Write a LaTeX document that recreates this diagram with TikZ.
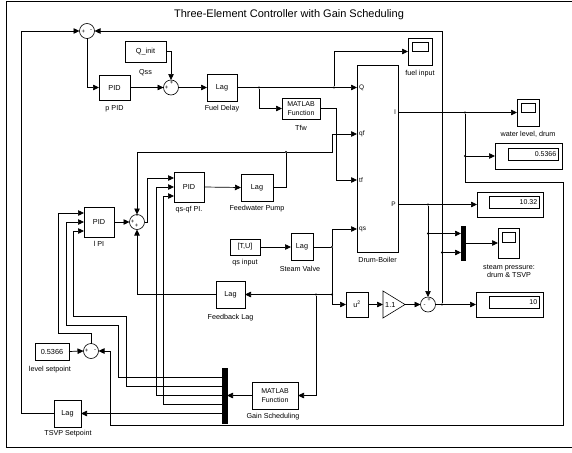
\documentclass[tikz,border=0pt]{standalone}
\usepackage{fontspec}
\setmainfont{Liberation Sans}
\usetikzlibrary{arrows.meta}
\begin{document}
\begin{tikzpicture}[x=1pt,y=-1pt,
  wire/.style={line width=0.7pt},
  sig/.style={wire,-{Triangle[length=6pt,width=5.5pt]}},
  blk/.style={draw,line width=0.6pt,fill=white,inner sep=0pt,outer sep=0pt,align=center,font=\fontsize{7.3}{8}\selectfont},
  lbl/.style={inner sep=0pt,font=\fontsize{7.2}{8}\selectfont,align=center},
  port/.style={inner sep=0pt,font=\fontsize{6.5}{7}\selectfont},
  sumc/.style={circle,draw,line width=0.6pt,minimum size=15pt,inner sep=0pt,outer sep=0pt},
  sgn/.style={inner sep=0pt,font=\fontsize{6}{6}\selectfont},
  jdot/.style={circle,fill,inner sep=0pt,minimum size=2.4pt},
  bar/.style={fill=black,draw=black,inner sep=0pt,outer sep=0pt},
  dval/.style={draw,line width=0.5pt,anchor=north east,inner xsep=1.5pt,inner ysep=0pt,text width=47pt,minimum height=12pt,align=right,font=\fontsize{7}{8}\selectfont},
]
\useasboundingbox (0,0) rectangle (572,452);
% frame
\draw[line width=0.8pt] (572,1) -- (6,1) -- (6,447) -- (572,447);
\node[font=\fontsize{11}{12}\selectfont,inner sep=0pt] (title) at (289,15) {Three-Element Controller with Gain Scheduling};

% ---------- blocks ----------
\node[sumc] (psum) at (87,31) {};
\node[sgn] (psum1) at (83.5,31.5) {+};
\node[sgn] (psum2s) at (91,30.5) {-};
\node[blk,minimum width=31pt,minimum height=25pt] (ppid) at (114.5,87.5) {PID};
\node[lbl] (ppidl) at (114.5,109) {p PID};
\node[blk,minimum width=41pt,minimum height=21pt] (qinit) at (145.5,51.5) {Q\_init};
\node[lbl] (qinitl) at (145.5,73) {Qss};
\node[sumc] (fsum) at (171,87.5) {};
\node[sgn] (fsum1) at (171.5,83) {+};
\node[sgn] (fsum2) at (166.5,88) {+};
\node[blk,minimum width=30pt,minimum height=27pt] (fdelay) at (222,87.5) {Lag};
\node[lbl] (fdelayl) at (222,109) {Fuel Delay};
\node[blk,minimum width=38pt,minimum height=21pt,font=\fontsize{7}{8.5}\selectfont] (tfw) at (301,108.5) {MATLAB\\Function};
\node[lbl] (tfwl) at (301,128) {Tfw};
\node[blk,minimum width=41pt,minimum height=187pt] (boiler) at (377.5,158.5) {};
\node[lbl] (boilerl) at (377.5,260) {Drum-Boiler};
\coordinate (pQ) at (357,87.5);
\coordinate (pQF) at (357,134);
\coordinate (pTF) at (357,180);
\coordinate (pQS) at (357,229);
\coordinate (pL) at (398,112.5);
\coordinate (pP) at (398,204.5);
\node[port,anchor=west] (tQ) at (359,87.5) {Q};
\node[port,anchor=west] (tQF) at (359,134) {qf};
\node[port,anchor=west] (tTF) at (359,180) {tf};
\node[port,anchor=west] (tQS) at (359,229) {qs};
\node[port,anchor=east] (tL) at (396,112.5) {l};
\node[port,anchor=east] (tP) at (396,204.5) {P};

\node[blk,minimum width=24pt,minimum height=27pt] (fuelscope) at (420,51.5) {};
\draw[line width=0.5pt] ([shift={(4pt,-4pt)}]fuelscope.north west) rectangle ([shift={(-4pt,-13pt)}]fuelscope.north east);
\node[lbl] (fuelscopel) at (420,74) {fuel input};
\node[blk,minimum width=22pt,minimum height=27pt] (wlscope) at (528,112.5) {};
\draw[line width=0.5pt] ([shift={(4pt,-4pt)}]wlscope.north west) rectangle ([shift={(-4pt,-13pt)}]wlscope.north east);
\node[lbl] (wlscopel) at (528,134) {water level, drum};

\node[blk,minimum width=67pt,minimum height=26pt] (disp1) at (528.5,156) {};
\node[dval] (disp1v) at ([shift={(-4pt,-5pt)}]disp1.north east) {0.5366};
\node[blk,minimum width=66pt,minimum height=25pt] (disp2) at (510,204.5) {};
\node[dval] (disp2v) at ([shift={(-4pt,-4pt)}]disp2.north east) {10.32};
\node[bar,minimum width=4pt,minimum height=34pt] (mux1) at (463,243) {};
\node[blk,minimum width=21pt,minimum height=30pt] (spscope) at (508.5,243) {};
\draw[line width=0.5pt] ([shift={(4pt,-4pt)}]spscope.north west) rectangle ([shift={(-4pt,-14pt)}]spscope.north east);
\node[lbl] (spscopel) at (509,271) {steam pressure:\\drum \& TSVP};
\node[blk,minimum width=67pt,minimum height=25pt] (disp3) at (509.5,304.5) {};
\node[dval] (disp3v) at ([shift={(-4pt,-4pt)}]disp3.north east) {10};

\node[blk,minimum width=30pt,minimum height=16pt] (qsin) at (245,247) {[T,U]};
\node[lbl] (qsinl) at (245,263) {qs input};
\node[blk,minimum width=22pt,minimum height=27pt] (svalve) at (302,247) {Lag};
\node[lbl] (svalvel) at (300,269) {Steam Valve};
\node[blk,minimum width=22pt,minimum height=25pt] (usq) at (357,304.5) {u\textsuperscript{2}};
\node[inner sep=0pt,outer sep=0pt,minimum width=22pt,minimum height=27pt] (gain) at (394,304.5) {};
\draw[line width=0.6pt] (gain.north west) -- (gain.east) -- (gain.south west) -- cycle;
\node[inner sep=0pt,anchor=west,font=\fontsize{7.3}{8}\selectfont] (gaint) at ([xshift=2pt]gain.west) {1.1};
\node[sumc] (psum2) at (428,304.5) {};
\node[sgn] (psum2a) at (424.5,306) {-};
\node[sgn] (psum2b) at (429,299.5) {+};

\node[blk,minimum width=29pt,minimum height=27pt] (fblag) at (230.5,294.5) {Lag};
\node[lbl] (fblagl) at (230.5,318) {Feedback Lag};
\node[sumc] (qsum) at (137,222) {};
\node[sgn] (qsum1) at (137,216.5) {-};
\node[sgn] (qsum2) at (132.7,222) {+};
\node[sgn] (qsum3) at (136.7,226) {+};
\node[blk,minimum width=30pt,minimum height=30pt] (lpi) at (99,222) {PID};
\node[lbl] (lpil) at (99,244) {l PI};
\node[blk,minimum width=30pt,minimum height=30pt] (qpi) at (189,187) {PID};
\node[lbl] (qpil) at (189,210) {qs-qf PI.};
\node[blk,minimum width=32pt,minimum height=27pt] (fwlag) at (257,187.5) {Lag};
\node[lbl] (fwlagl) at (257,209) {Feedwater Pump};

\node[sumc] (lsum) at (91,351) {};
\node[sgn] (lsum1) at (86.5,351) {+};
\node[sgn] (lsum2) at (95,350.5) {-};
\node[blk,minimum width=34pt,minimum height=17pt] (lconst) at (52,351.5) {0.5366};
\node[lbl] (lconstl) at (50,370) {level setpoint};
\node[bar,minimum width=5pt,minimum height=55pt] (demux) at (224.5,395.5) {};
\node[blk,minimum width=46pt,minimum height=27pt,font=\fontsize{7}{8.5}\selectfont] (gsched) at (275,395.5) {MATLAB\\Function};
\node[lbl] (gschedl) at (273,417) {Gain Scheduling};
\node[blk,minimum width=27pt,minimum height=27pt] (tsvp) at (67.5,413.5) {Lag};
\node[lbl] (tsvpl) at (68,434) {TSVP Setpoint};

% ---------- junctions ----------
\node[jdot] (j1) at (259,87.5) {};
\node[jdot] (j2) at (334,87.5) {};
\node[jdot] (j3) at (286,152) {};
\node[jdot] (j4) at (332,247) {};
\node[jdot] (j5) at (332,294.5) {};
\node[jdot] (j6) at (316,294.5) {};
\node[jdot] (j7) at (442,304.5) {};
\node[jdot] (j8) at (442,252.5) {};
\node[jdot] (j9) at (428,204.5) {};
\node[jdot] (j10) at (428,233.5) {};
\node[jdot] (j11) at (465,112.5) {};
\node[jdot] (j12) at (465,156) {};

% ---------- connectors ----------
\draw[sig] (tsvp.west) -- (21,413.5) |- (psum.west);
\draw[sig] (psum.south) |- (ppid.west);
\draw[sig] (ppid.east) -- (fsum.west);
\draw[sig] (qinit.east) -| (fsum.north);
\draw[sig] (fsum.east) -- (fdelay.west);
\draw[sig] (fdelay.east) -- (pQ);
\draw[sig] (j1) |- (tfw.west);
\draw[sig] (j2) |- (fuelscope.west);
\draw[sig] (tfw.east) -- (336,108.5) -- (336,180) -- (pTF);
\draw[wire] (fwlag.east) -| (j3);
\draw[sig] (j3) -| (332,134) -- (pQF);
\draw[sig] (j3) -| (qsum.north);
\draw[sig] (lpi.east) -- (qsum.west);
\draw[sig] (qsum.east) -| (147.5,178) -- ([yshift=9pt]qpi.west);
\draw[sig] (qpi.east) -- (fwlag.west);
\draw[sig] (fblag.west) -| (qsum.south);
\draw[sig] (qsin.east) -- (svalve.west);
\draw[wire] (svalve.east) -- (j4);
\draw[sig] (j4) |- (pQS);
\draw[sig] (j4) |- (usq.west);
\draw[sig] (j5) -- (fblag.east);
\draw[sig] (j6) |- (gsched.east);
\draw[sig] (usq.east) -- (gain.west);
\draw[sig] (gain.east) -- (psum2.west);
\draw[sig] (psum2.east) -- (disp3.west);
\draw[sig] (j7) |- (psum.east);
\draw[sig] (j8) -- ([yshift=-9.5pt]mux1.west);
\draw[sig] (pP) -- (disp2.west);
\draw[sig] (j9) -- (psum2.north);
\draw[sig] (j10) -- ([yshift=9.5pt]mux1.west);
\draw[sig] (mux1.east) -- (spscope.west);
\draw[sig] (pL) -- (wlscope.west);
\draw[sig] (j12) -- (disp1.west);
\draw[sig] (j11) -- (465,182) -- (563,182) -- (563,425) -- (110,425) |- (lsum.east);
\draw[sig] (lconst.east) -- (lsum.west);
\draw[sig] (lsum.north) |- (58,333) |- ([yshift=9pt]lpi.west);
\draw[sig] ([yshift=18pt]demux.west) -| (118,325) -| (66,222) -- (lpi.west);
\draw[sig] ([yshift=9pt]demux.west) -| (126,316) -| (73,231) -- ([yshift=-9pt]lpi.west);
\draw[sig] (demux.west) -| (156,187) -- (qpi.west);
\draw[sig] ([yshift=-9pt]demux.west) -| (163,196) -- ([yshift=-9pt]qpi.west);
\draw[sig] ([yshift=-18pt]demux.west) -- (tsvp.east);
\draw[sig] (gsched.west) -- (demux.east);
\end{tikzpicture}
\end{document}
